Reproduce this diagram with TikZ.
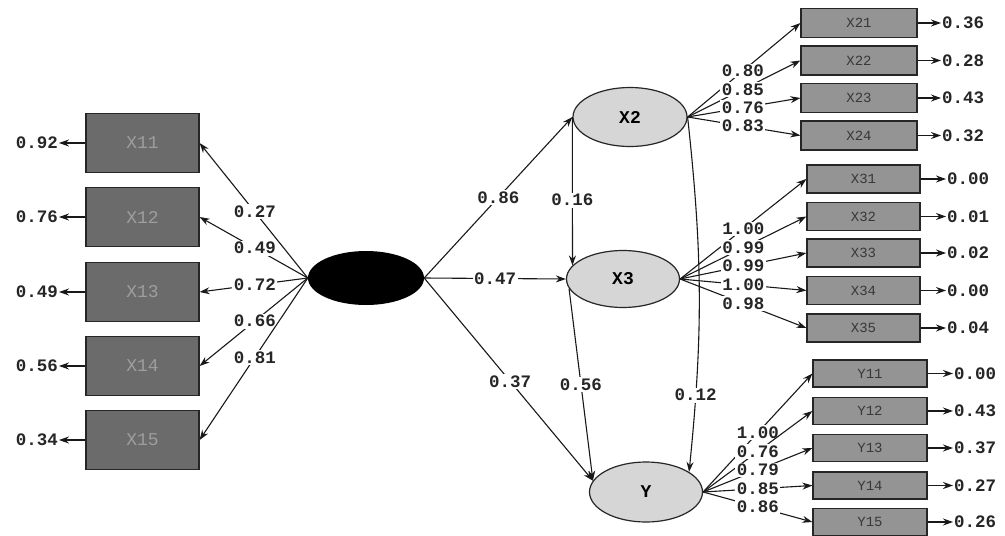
\documentclass[tikz,border=0pt]{standalone}
\usepackage{fontspec}
\setmonofont{Liberation Mono}
\usetikzlibrary{shapes.geometric,arrows.meta}
\begin{document}
\begin{tikzpicture}[x=1pt,y=-1pt,
  num/.style={font=\ttfamily\bfseries\fontsize{17.5}{18}\selectfont, text=black!85, inner sep=1pt},
  lab/.style={num, fill=white, inner sep=1.5pt},
  lbox/.style={draw=black!85, line width=1.2pt, fill=black!58, minimum width=113pt, minimum height=59pt,
    font=\ttfamily\fontsize{18}{18}\selectfont, text=black!38},
  rbox/.style={draw=black!85, line width=1.2pt, fill=black!42, minimum height=28pt,
    font=\ttfamily\fontsize{14}{14}\selectfont, text=black!78},
  lat/.style={ellipse, draw=black!85, line width=1.2pt, fill=black!16, minimum width=114pt, minimum height=59pt,
    font=\ttfamily\bfseries\fontsize{18}{18}\selectfont},
  arr/.style={-{Stealth[length=10pt,width=7pt]}, line width=1.1pt, draw=black!90},
]
\fill[white] (0,0) rectangle (1005,536);
\useasboundingbox (0,0) rectangle (1005,536);

% exogenous latent variable
\node[ellipse, fill=black, minimum width=116pt, minimum height=54pt] (ksi) at (366,278) {};

% endogenous latent variables
\node[lat] (x2) at (630,117) {X2};
\node[lat, minimum width=113pt, minimum height=57pt] (x3) at (623,279) {X3};
\node[lat, minimum width=113pt, minimum height=60pt] (y) at (646,492) {Y};

% indicators of the exogenous variable
\foreach \n/\yy/\e in {11/143/0.92, 12/217/0.76, 13/292/0.49, 14/366/0.56, 15/440/0.34}{
  \node[lbox] (x\n) at (142.5,\yy) {X\n};
  \node[num, anchor=east] (ex\n) at (59,\yy) {\e};
  \draw[arr] (x\n.west) -- (ex\n.east);
}
\foreach \n/\l in {11/0.27, 12/0.49, 13/0.72, 14/0.66, 15/0.81}{
  \draw[arr] (ksi.west) -- node[lab, pos=0.49] {\l} (x\n.east);
}

% indicators of X2
\foreach \n/\yy/\e/\l in {21/23/0.36/0.80, 22/60.5/0.28/0.85, 23/98/0.43/0.76, 24/135.5/0.32/0.83}{
  \node[rbox, minimum width=116pt, minimum height=29pt] (x\n) at (859,\yy) {X\n};
  \node[num, anchor=west] (ex\n) at (941,\yy) {\e};
  \draw[arr] (x\n.east) -- (ex\n.west);
  \draw[arr] (x2.east) -- node[lab, pos=0.49] {\l} (x\n.west);
}

% indicators of X3
\foreach \n/\yy/\e/\l in {31/179/0.00/1.00, 32/216.5/0.01/0.99, 33/253/0.02/0.99, 34/290.5/0.00/1.00, 35/328/0.04/0.98}{
  \node[rbox, minimum width=113pt] (x\n) at (863.5,\yy) {X\n};
  \node[num, anchor=west] (ex\n) at (946,\yy) {\e};
  \draw[arr] (x\n.east) -- (ex\n.west);
  \draw[arr] (x3.east) -- node[lab, pos=0.5] {\l} (x\n.west);
}

% indicators of Y
\foreach \n/\yy/\e/\l in {11/373.5/0.00/1.00, 12/411/0.43/0.76, 13/448/0.37/0.79, 14/485.5/0.27/0.85, 15/522/0.26/0.86}{
  \node[rbox, minimum width=114pt, minimum height=27pt] (y\n) at (870,\yy) {Y\n};
  \node[num, anchor=west] (ey\n) at (953,\yy) {\e};
  \draw[arr] (y\n.east) -- (ey\n.west);
  \draw[arr] (y.east) -- node[lab, pos=0.5] {\l} (y\n.west);
}

% structural paths
\draw[arr] (ksi.east) -- node[lab, pos=0.5] {0.86} (x2.west);
\draw[arr] (ksi.east) -- node[lab, pos=0.5] {0.47} (x3.west);
\draw[arr] (ksi.east) -- node[lab, pos=0.51] {0.37} (y.168);
\draw[arr] (x2.west) -- node[lab, pos=0.56] {0.16} (x3.165);
\draw[arr] (x3.190) -- node[lab, pos=0.5] {0.56} (y.168);
\draw[arr] (x2.east) to[bend left=6] node[lab, pos=0.8] {0.12} (y.25);
\end{tikzpicture}
\end{document}
